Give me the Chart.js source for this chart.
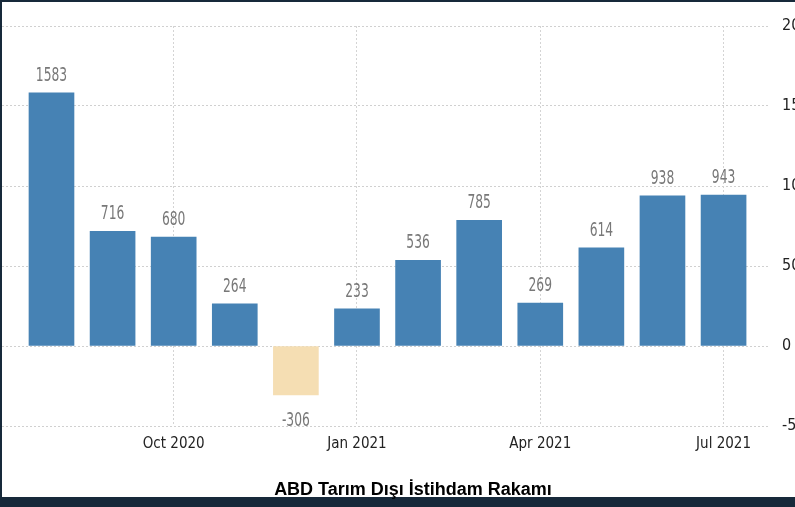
<!DOCTYPE html>
<html>
<head>
<meta charset="utf-8">
<script src="https://cdn.jsdelivr.net/npm/chart.js@4/dist/chart.umd.min.js"></script>
<style>
  html, body { margin: 0; padding: 0; background: #17293a; }
  #frame { position: relative; width: 795px; height: 507px; overflow: hidden; background: #17293a; }
  #paper { position: absolute; left: 2px; top: 2px; width: 793px; height: 495px; background: #fff; overflow: hidden; }
  #wrap { position: absolute; left: 0; top: 0; width: 830px; height: 495px; }
  #title { position: absolute; left: 0; width: 826px; top: 479px; text-align: center;
           font: bold 18px "Liberation Sans", Arial, sans-serif; color: #000; }
</style>
</head>
<body>
<div id="frame">
  <div id="paper">
    <div id="wrap"><canvas id="nfp"></canvas></div>
  </div>
  <div id="title">ABD Tarım Dışı İstihdam Rakamı</div>
</div>
<script>
// ── Data ──────────────────────────────────────────────────────
const months = ['Aug 2020', 'Sep 2020', 'Oct 2020', 'Nov 2020', 'Dec 2020', 'Jan 2021',
                'Feb 2021', 'Mar 2021', 'Apr 2021', 'May 2021', 'Jun 2021', 'Jul 2021'];
const payrolls = [1583, 716, 680, 264, -306, 233, 536, 785, 269, 614, 938, 943];
const tickMonths = ['Oct 2020', 'Jan 2021', 'Apr 2021', 'Jul 2021'];
const yTicks = [-500, 0, 500, 1000, 1500, 2000];

const POS = '#4682b4', NEG = '#f5deb3';
const NARROW = '"Liberation Sans Narrow", "DejaVu Sans Condensed", Arial, sans-serif';

// value labels above / below each bar (squeezed to look condensed)
const valueLabels = {
    id: 'valueLabels',
    afterDatasetsDraw(chart) {
        const ctx = chart.ctx;
        const meta = chart.getDatasetMeta(0);
        meta.data.forEach((bar, i) => {
            const v = payrolls[i];
            const y = v >= 0 ? bar.y - 12 : bar.y + 31;
            ctx.save();
            ctx.translate(bar.x, y);
            ctx.scale(0.72, 1);
            ctx.fillStyle = '#787878';
            ctx.font = '19px ' + NARROW;
            ctx.textAlign = 'center';
            ctx.textBaseline = 'alphabetic';
            ctx.fillText(String(v), 0, 0);
            ctx.restore();
        });
    }
};

new Chart(document.getElementById('nfp'), {
    type: 'bar',
    data: {
        datasets: [{
            data: payrolls.map((v, i) => ({ x: i, y: v })),
            backgroundColor: payrolls.map(v => v >= 0 ? POS : NEG),
            barThickness: 45,
        }],
    },
    options: {
        responsive: true, maintainAspectRatio: false, animation: false,
        layout: { padding: { top: 24, bottom: 31, left: 0, right: 0 } },
        plugins: { legend: { display: false }, tooltip: { enabled: false } },
        scales: {
            x: {
                type: 'linear', min: -0.81, max: 11.76, offset: false,
                afterBuildTicks: s => { s.ticks = tickMonths.map(m => ({ value: months.indexOf(m) })); },
                afterFit: s => { s.height = 40; },
                ticks: {
                    callback: v => months[v] || '',
                    color: '#222', font: { size: 15, family: NARROW }, padding: 9, maxRotation: 0,
                },
                grid: { color: '#d4d4d4', drawTicks: false, offset: false },
                border: { display: false, dash: [2, 2] },
            },
            y: {
                position: 'right', min: -500, max: 2000,
                afterBuildTicks: s => { s.ticks = yTicks.map(v => ({ value: v })); },
                afterFit: s => { s.width = 62; },
                ticks: { color: '#222', font: { size: 16, family: NARROW }, padding: 12,
                         callback: v => String(v) },
                grid: { color: '#d0d0d0', drawTicks: false },
                border: { display: false, dash: [2, 2] },
            },
        },
    },
    plugins: [valueLabels],
});
</script>
</body>
</html>
